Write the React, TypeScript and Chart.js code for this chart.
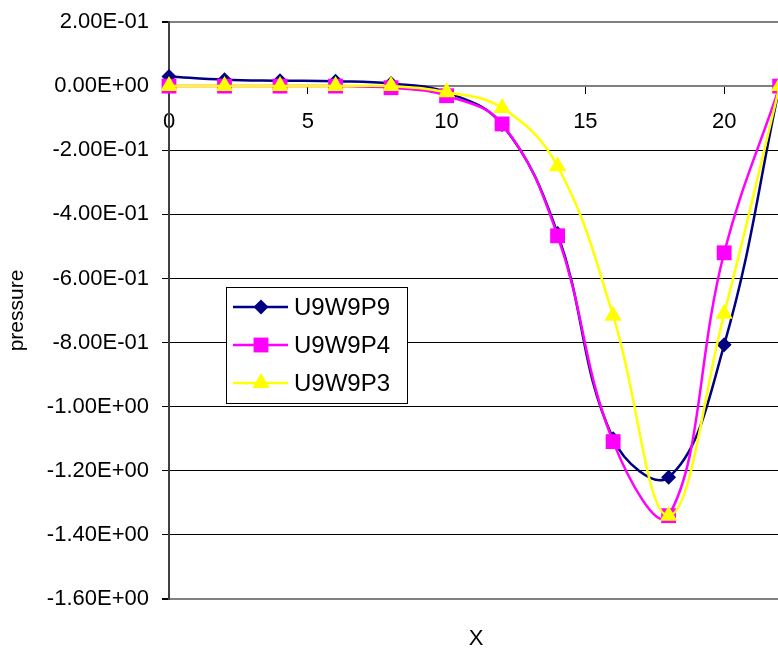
import React, { useEffect, useRef } from "react";
import { Chart, registerables } from "chart.js";

Chart.register(...registerables);

const xValues = [0, 2, 4, 6, 8, 10, 12, 14, 16, 18, 20, 22];
const seriesNames = ["U9W9P9", "U9W9P4", "U9W9P3"];
const u9w9p9 = [0.03, 0.02, 0.017, 0.015, 0.008, -0.02, -0.12, -0.46, -1.10, -1.22, -0.807, 0.0];
const u9w9p4 = [0.0, 0.0, 0.0, 0.0, -0.005, -0.03, -0.118, -0.467, -1.109, -1.34, -0.52, 0.0];
const u9w9p3 = [0.0, 0.0, 0.0, 0.0, 0.0, -0.019, -0.068, -0.25, -0.716, -1.34, -0.71, 0.0];
const seriesColors = ["#000080", "#FF00FF", "#FFFF00"];
const seriesMarkers = ["rectRot", "rect", "triangle"];
const markerRadius = [7.5, 10.5, 10];
const yMin = -1.6;
const yMax = 0.2;
const yStep = 0.2;
const xMin = 0;
const xMax = 21.94;
const xStep = 5;
const xTitle = "X";
const yTitle = "pressure";

const FONT = "'Liberation Sans', Arial, sans-serif";

function fmtExp(v: number): string {
  const s = v.toExponential(2);
  const [m, e] = s.split("e");
  const sign = e[0] === "-" ? "-" : "+";
  const digits = e.replace(/[+-]/, "").padStart(2, "0");
  return `${m}E${sign}${digits}`;
}

function drawMarker(ctx: CanvasRenderingContext2D, style: string, x: number, y: number, r: number) {
  ctx.beginPath();
  if (style === "rectRot") {
    ctx.moveTo(x, y - r);
    ctx.lineTo(x + r, y);
    ctx.lineTo(x, y + r);
    ctx.lineTo(x - r, y);
  } else if (style === "rect") {
    const s = Math.SQRT1_2 * r;
    ctx.rect(x - s, y - s, 2 * s, 2 * s);
  } else {
    const w = (r * Math.sqrt(3)) / 2;
    ctx.moveTo(x, y - r);
    ctx.lineTo(x + w, y + r / 2);
    ctx.lineTo(x - w, y + r / 2);
  }
  ctx.closePath();
  ctx.fill();
}

const overlayPlugin = {
  id: "overlay",
  afterDraw(chart: any) {
    const ctx: CanvasRenderingContext2D = chart.ctx;
    ctx.save();
    // X axis title
    ctx.fillStyle = "#000";
    ctx.font = `22px ${FONT}`;
    ctx.textAlign = "center";
    ctx.textBaseline = "middle";
    ctx.fillText(xTitle, 476, 639);
    // Legend
    const bx = 226, by = 287, bw = 181, bh = 116;
    ctx.fillStyle = "#fff";
    ctx.fillRect(bx, by, bw, bh);
    ctx.strokeStyle = "#000";
    ctx.lineWidth = 1;
    ctx.strokeRect(bx + 0.5, by + 0.5, bw, bh);
    ctx.textAlign = "left";
    ctx.font = `24px ${FONT}`;
    const rows = [307, 345, 383];
    seriesNames.forEach((name, i) => {
      const y = rows[i];
      ctx.strokeStyle = seriesColors[i];
      ctx.lineWidth = 2.5;
      ctx.beginPath();
      ctx.moveTo(233, y);
      ctx.lineTo(288, y);
      ctx.stroke();
      ctx.fillStyle = seriesColors[i];
      drawMarker(ctx, seriesMarkers[i], 261, y, markerRadius[i]);
      ctx.fillStyle = "#000";
      ctx.fillText(name, 294, y + 1);
    });
    ctx.restore();
  },
};

export default function App() {
  const ref = useRef<HTMLCanvasElement | null>(null);
  useEffect(() => {
    document.body.style.margin = "0";
    const canvas = ref.current;
    if (!canvas) return;
    const allSeries = [u9w9p9, u9w9p4, u9w9p3];
    const chart = new Chart(canvas, {
      type: "line",
      data: {
        datasets: allSeries.map((vals, i) => ({
          label: seriesNames[i],
          data: vals.map((v, j) => ({ x: xValues[j], y: v })),
          borderColor: seriesColors[i],
          backgroundColor: seriesColors[i],
          borderWidth: 2.5,
          pointStyle: seriesMarkers[i] as any,
          pointRadius: markerRadius[i],
          pointBorderWidth: 0,
          pointHoverRadius: markerRadius[i],
          tension: 0.4,
          fill: false,
          order: 3 - i,
          clip: false as any,
        })),
      },
      options: {
        responsive: false,
        animation: false,
        events: [],
        layout: { autoPadding: false, padding: { top: 22, right: 0, bottom: 53, left: 0 } } as any,
        plugins: {
          legend: { display: false },
          tooltip: { enabled: false },
        },
        scales: {
          x: {
            type: "linear",
            min: xMin,
            max: xMax,
            position: { y: 0 } as any,
            grid: {
              drawOnChartArea: false,
              drawTicks: true,
              tickLength: 7,
              color: "#000",
            },
            border: { display: true, color: "#808080", width: 2 },
            ticks: {
              stepSize: xStep,
              includeBounds: false,
              maxRotation: 0,
              padding: 16,
              color: "#000",
              font: { family: FONT, size: 22 },
            },
          },
          y: {
            type: "linear",
            min: yMin,
            max: yMax,
            afterFit: (scale: any) => {
              scale.width = 169;
              scale.paddingTop = 0;
              scale.paddingBottom = 0;
            },
            grid: {
              drawTicks: true,
              tickLength: 7,
              color: (c: any) => {
                const v = c.tick ? c.tick.value : 0;
                if (Math.abs(v - yMax) < 1e-6 || Math.abs(v - yMin) < 1e-6) return "#808080";
                return "#000";
              },
              lineWidth: (c: any) => {
                const v = c.tick ? c.tick.value : 0;
                if (Math.abs(v - yMax) < 1e-6 || Math.abs(v - yMin) < 1e-6) return 2;
                return 1;
              },
              tickColor: "#000",
            } as any,
            border: { display: true, color: "#404040", width: 2 },
            title: {
              display: true,
              text: yTitle,
              color: "#000",
              font: { family: FONT, size: 21 },
              padding: { top: 5, bottom: 0 },
            },
            ticks: {
              stepSize: yStep,
              padding: 13,
              color: "#000",
              font: { family: FONT, size: 22 },
              callback: (v: any) => fmtExp(Number(v)),
            },
          },
        },
      },
      plugins: [overlayPlugin],
    });
    return () => chart.destroy();
  }, []);
  return (
    <div style={{ width: 778, height: 652, position: "relative", background: "#fff" }}>
      <canvas ref={ref} width={778} height={652} />
    </div>
  );
}
